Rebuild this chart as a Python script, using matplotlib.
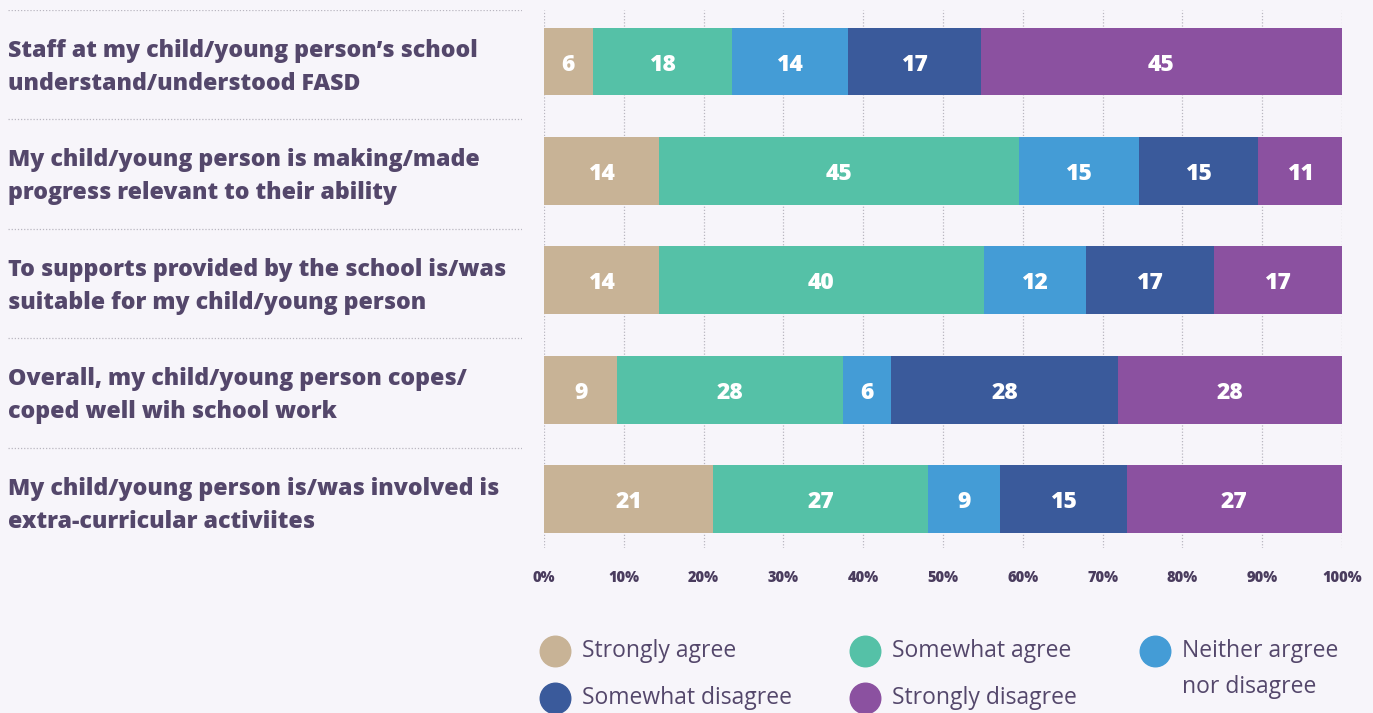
import numpy as np
import matplotlib.pyplot as plt
from matplotlib.lines import Line2D

plt.rcParams['font.family'] = ['Open Sans', 'DejaVu Sans']

questions = [
    "Staff at my child/young person\u2019s school\nunderstand/understood FASD",
    "My child/young person is making/made\nprogress relevant to their ability",
    "To supports provided by the school is/was\nsuitable for my child/young person",
    "Overall, my child/young person copes/\ncoped well wih school work",
    "My child/young person is/was involved is\nextra-curricular activiites",
]
responses = ["Strongly agree", "Somewhat agree", "Neither argree\nnor disagree",
             "Somewhat disagree", "Strongly disagree"]

# bar lengths (% of respondents)
strongly_agree = [6.1, 14.4, 14.4, 9.2, 21.2]
somewhat_agree = [17.4, 45.1, 40.7, 28.3, 26.9]
neither = [14.6, 15.0, 12.8, 6.0, 9.0]
somewhat_disagree = [16.6, 15.0, 16.0, 28.4, 15.9]
strongly_disagree = [45.3, 10.5, 16.1, 28.1, 27.0]

# numbers printed on the bars
strongly_agree_lbl = [6, 14, 14, 9, 21]
somewhat_agree_lbl = [18, 45, 40, 28, 27]
neither_lbl = [14, 15, 12, 6, 9]
somewhat_disagree_lbl = [17, 15, 17, 28, 15]
strongly_disagree_lbl = [45, 11, 17, 28, 27]

tick_labels = ["0%", "10%", "20%", "30%", "40%", "50%", "60%", "70%", "80%", "90%", "100%"]

colors = ["#c8b396", "#55c1a7", "#449cd6", "#3a5a9b", "#8b51a0"]
bg = "#f7f5fa"
text_col = "#54476b"

shares = np.array([strongly_agree, somewhat_agree, neither,
                   somewhat_disagree, strongly_disagree])
labels = [strongly_agree_lbl, somewhat_agree_lbl, neither_lbl,
          somewhat_disagree_lbl, strongly_disagree_lbl]

fig = plt.figure(figsize=(13.73, 7.13), dpi=100, facecolor=bg)
ax = fig.add_axes([544/1373, 1 - 548/713, 798/1373, 538/713])
ax.set_facecolor(bg)

y = np.arange(len(questions))
left = np.zeros(len(questions))
for k in range(len(responses)):
    ax.barh(y, shares[k], left=left, height=0.62, color=colors[k], zorder=2)
    for i in range(len(y)):
        ax.text(left[i] + shares[k][i] / 2, y[i] + 0.03, str(labels[k][i]),
                ha="center", va="center", color="white", fontsize=16.5,
                fontweight=800, zorder=3)
    left += shares[k]

ax.set_xlim(0, 100)
ax.set_ylim(4.448, -0.47)
ax.set_xticks(np.arange(0, 101, 10))
ax.set_xticklabels(tick_labels, fontsize=10.5, fontweight=800, color="#4a3c5e")
ax.set_yticks([])
ax.tick_params(axis="x", length=0, pad=16)
ax.grid(axis="x", color="#b9b6c0", linestyle=(0, (1, 1.5)), linewidth=0.9, zorder=0)
for s in ax.spines.values():
    s.set_visible(False)

# left label panel sharing the y scale
lax = fig.add_axes([8/1373, 1 - 548/713, 514/1373, 538/713], sharey=ax)
lax.set_facecolor("none")
lax.set_xlim(0, 1)
lax.axis("off")
for i, q in enumerate(questions):
    lax.text(0, y[i] + 0.055, q, ha="left", va="center", fontsize=16.7, fontweight=800,
             color=text_col, linespacing=1.5)
    lax.axhline(y[i] - 0.47, color="#b9b6c0", linestyle=(0, (1, 1.5)), linewidth=0.9)

# legend
legend_pos = [(555, 651), (865, 651), (1155, 651), (555, 698), (865, 698)]
for k, (px, py) in enumerate(legend_pos):
    fx, fy = px / 1373, 1 - py / 713
    fig.add_artist(Line2D([fx], [fy], marker="o", markersize=22, color=colors[k],
                          linestyle="none", transform=fig.transFigure))
    parts = responses[k].split("\n")
    fig.text(fx + 27/1373, fy, parts[0], ha="left", va="center", fontsize=16.5,
             color=text_col)
    if len(parts) > 1:
        fig.text(fx + 27/1373, fy - 36/713, parts[1], ha="left", va="center",
                 fontsize=16.5, color=text_col)

fig.savefig("out.png", dpi=100, facecolor=bg)
